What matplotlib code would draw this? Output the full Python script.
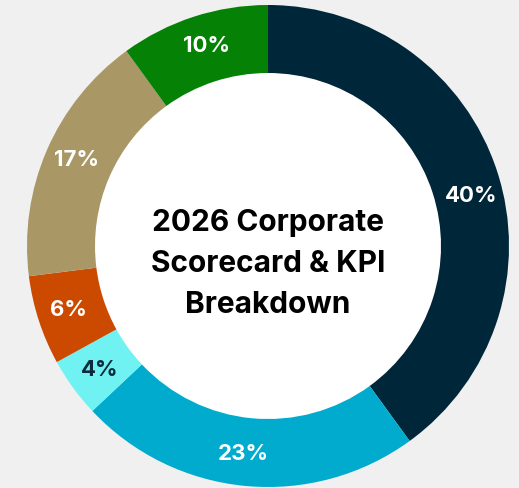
import matplotlib
matplotlib.use("Agg")
import matplotlib.pyplot as plt
import numpy as np

plt.rcParams['font.family'] = ['Inter', 'DejaVu Sans']

title = "2026 Corporate\nScorecard & KPI\nBreakdown"
values = [40, 23, 4, 6, 17, 10]
labels = ["40%", "23%", "4%", "6%", "17%", "10%"]
colors = ["#002639", "#00abcd", "#70f2f2", "#cc4a00", "#a99766", "#058205"]
label_colors = ["white", "white", "#0b2a3c", "white", "white", "white"]
# small angular nudges (degrees) for label placement
label_nudge = [-4.2, -1.5, 0.4, -0.3, -0.7, -1.0]

W, H, DPI = 519, 488, 100
fig = plt.figure(figsize=(W / DPI, H / DPI), dpi=DPI, facecolor="#f0f0f0")
R = 241
cx, cy = 268, 246
ax = fig.add_axes([(cx - R) / W, (H - cy - R) / H, 2 * R / W, 2 * R / H])
ax.set_facecolor("none")
inner = 173 / 241
width = 1 - inner
wedges, _ = ax.pie(values, colors=colors, startangle=90, counterclock=False,
                   radius=1, wedgeprops=dict(width=width, linewidth=0))
ax.add_patch(plt.Circle((0, 0), inner, color="white", zorder=0))
ax.set_xlim(-1, 1)
ax.set_ylim(-1, 1)
ax.set_aspect("equal")
ax.axis("off")

rmid = 209.5 / R
total = sum(values)
cum = 0
for v, lab, lc, nd in zip(values, labels, label_colors, label_nudge):
    mid = cum + v / 2
    ang = np.deg2rad(90 - 360 * mid / total + nd)
    ax.text(rmid * np.cos(ang), rmid * np.sin(ang), lab, ha="center", va="center",
            color=lc, fontsize=16, fontweight="bold")
    cum += v

ax.text(0, -18 / R, title, ha="center", va="center", fontsize=21.5, fontweight="bold",
        color="black", linespacing=1.58)

fig.savefig("out.png", dpi=DPI, facecolor=fig.get_facecolor())
